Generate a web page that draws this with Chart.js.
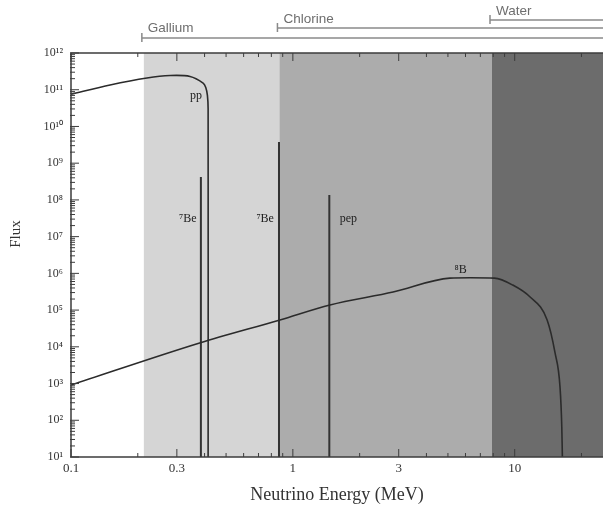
<!DOCTYPE html>
<html>
<head>
<meta charset="utf-8">
<script src="https://cdn.jsdelivr.net/npm/chart.js@4.4.0/dist/chart.umd.min.js"></script>
<style>
  html, body { margin: 0; padding: 0; background: #fff; }
</style>
</head>
<body>
<canvas id="chart" width="603" height="512"></canvas>
<script>
// spectra (energy in MeV, flux)
const ppEnergy = [0.1, 0.15, 0.22, 0.28, 0.344, 0.394, 0.405, 0.412, 0.415, 0.415];
const ppFlux   = [7.6e10, 1.35e11, 2.09e11, 2.44e11, 2.3e11, 1.52e11, 1.15e11, 7e10, 3e10, 10];

const b8Energy = [0.1, 0.38, 0.875, 1.47, 2.83, 5.1, 6.3, 8.1, 9.8, 11.7, 14.0, 15.2, 16.0, 16.3, 16.4];
const b8Flux   = [9.1e2, 1.27e4, 5.4e4, 1.38e5, 3.1e5, 7.4e5, 7.6e5, 7.4e5, 4.8e5, 2.3e5, 5.4e4, 6.8e3, 810, 66, 10];

// monoenergetic lines
const lineEnergy = [0.385, 0.866, 1.46];
const lineFlux   = [4.2e8, 3.8e9, 1.36e8];

// curve labels
const curveLabels = ['pp', '\u2077Be', '\u2077Be', 'pep', '\u2078B'];
const labelEnergy = [0.366, 0.336, 0.75, 1.78, 5.7];
const labelFlux   = [6.8e10, 3.0e7, 3.0e7, 3.0e7, 1.23e6];

// detectors and their thresholds
const detectorNames = ['Gallium', 'Chlorine', 'Water'];
const detectorThreshold = [0.213, 0.87, 7.9];

// axis labels
const xTickLabels = ['0.1', '0.3', '1', '3', '10'];
const yTickLabels = ['10\u00b9', '10\u00b2', '10\u00b3', '10\u2074', '10\u2075', '10\u2076',
                     '10\u2077', '10\u2078', '10\u2079', '10\u00b9\u2070', '10\u00b9\u00b9', '10\u00b9\u00b2'];

const xTicks = [];
for (let e = -1; e <= 1; e++) {
  for (let m = 1; m <= 9; m++) {
    const v = m * Math.pow(10, e);
    if (v <= 25) xTicks.push(v);
  }
}
const yTicks = [];
for (let e = 1; e <= 12; e++) {
  for (let m = 1; m <= 9; m++) {
    if (e === 12 && m > 1) break;
    yTicks.push(m * Math.pow(10, e));
  }
}

function near(a, b) { return Math.abs(a - b) / b < 1e-6; }

const curveColor = '#2b2b2b';

const datasets = [
  {
    label: 'pp',
    data: ppEnergy.map((e, i) => ({ x: e, y: ppFlux[i] })),
    borderColor: curveColor, borderWidth: 1.6, tension: 0.3
  },
  {
    label: '8B',
    data: b8Energy.map((e, i) => ({ x: e, y: b8Flux[i] })),
    borderColor: curveColor, borderWidth: 1.6, cubicInterpolationMode: 'monotone'
  }
];
lineEnergy.forEach((e, i) => {
  datasets.push({
    label: 'line' + i,
    data: [{ x: e, y: 10 }, { x: e, y: lineFlux[i] }],
    borderColor: '#333', borderWidth: 2, tension: 0
  });
});

const shading = {
  id: 'shading',
  beforeDraw(chart) {
    const { ctx, chartArea: a, scales: { x } } = chart;
    const shades = ['#d5d5d5', '#acacac', '#6c6c6c'];
    ctx.save();
    detectorThreshold.forEach((t, i) => {
      const x0 = x.getPixelForValue(t);
      const x1 = i + 1 < detectorThreshold.length ? x.getPixelForValue(detectorThreshold[i + 1]) : a.right;
      ctx.fillStyle = shades[i];
      ctx.fillRect(x0, a.top, x1 - x0, a.bottom - a.top);
    });
    ctx.restore();
  }
};

const frame = {
  id: 'frame',
  afterDraw(chart) {
    const { ctx, chartArea: a, scales: { x, y } } = chart;
    ctx.save();
    // axes box and inward ticks
    ctx.strokeStyle = '#3c3c3c';
    ctx.lineWidth = 1.5;
    ctx.beginPath();
    ctx.moveTo(a.right, a.top); ctx.lineTo(a.left, a.top);
    ctx.lineTo(a.left, a.bottom); ctx.lineTo(a.right, a.bottom);
    ctx.stroke();
    ctx.lineWidth = 1;
    ctx.beginPath();
    x.ticks.forEach(t => {
      const px = x.getPixelForValue(t.value);
      const len = t.label ? 8 : 4;
      ctx.moveTo(px, a.bottom); ctx.lineTo(px, a.bottom - len);
      ctx.moveTo(px, a.top); ctx.lineTo(px, a.top + len);
    });
    y.ticks.forEach(t => {
      const py = y.getPixelForValue(t.value);
      const len = t.label ? 8 : 4;
      ctx.moveTo(a.left - 1, py); ctx.lineTo(a.left + len, py);
    });
    ctx.stroke();

    // curve labels
    ctx.fillStyle = '#222';
    ctx.font = '12px "Liberation Serif"';
    ctx.textAlign = 'center';
    ctx.textBaseline = 'middle';
    curveLabels.forEach((s, i) => {
      ctx.fillText(s, x.getPixelForValue(labelEnergy[i]), y.getPixelForValue(labelFlux[i]));
    });

    // y title
    ctx.save();
    ctx.translate(16, 234);
    ctx.rotate(-Math.PI / 2);
    ctx.font = '15px "Liberation Serif"';
    ctx.fillStyle = '#333';
    ctx.fillText('Flux', 0, 0);
    ctx.restore();

    // detector ranges above the plot
    const barY = [38, 28, 20];
    const nameY = [28, 19, 11];
    ctx.strokeStyle = '#8a8a8a';
    ctx.lineWidth = 1.5;
    ctx.fillStyle = '#6e6e6e';
    ctx.font = '13.5px "Liberation Sans"';
    ctx.textAlign = 'left';
    detectorNames.forEach((n, i) => {
      const x0 = x.getPixelForValue(detectorThreshold[i]) - 2;
      ctx.beginPath();
      ctx.moveTo(x0, barY[i]); ctx.lineTo(a.right, barY[i]);
      ctx.moveTo(x0, barY[i] - 5); ctx.lineTo(x0, barY[i] + 4);
      ctx.stroke();
      ctx.fillText(n, x0 + 6, nameY[i]);
    });
    ctx.restore();
  }
};

new Chart(document.getElementById('chart'), {
  type: 'scatter',
  data: { datasets: datasets },
  options: {
    responsive: false,
    animation: false,
    showLine: true,
    elements: { point: { radius: 0, hoverRadius: 0 } },
    layout: { padding: { top: 53, left: 0, right: 0, bottom: 0 } },
    plugins: { legend: { display: false }, tooltip: { enabled: false } },
    scales: {
      x: {
        type: 'logarithmic',
        min: 0.1,
        max: 25,
        afterBuildTicks: s => { s.ticks = xTicks.map(v => ({ value: v })); },
        afterFit: s => { s.height = 55; },
        grid: { display: false, drawTicks: false },
        border: { display: false },
        ticks: {
          autoSkip: false,
          maxRotation: 0,
          padding: 4,
          color: '#333',
          font: { family: 'Liberation Serif', size: 13 },
          callback: v => {
            const hit = xTickLabels.find(l => near(v, parseFloat(l)));
            return hit || '';
          }
        },
        title: {
          display: true,
          text: 'Neutrino Energy (MeV)',
          color: '#333',
          font: { family: 'Liberation Serif', size: 18 },
          padding: { top: 0, bottom: 6 }
        }
      },
      y: {
        type: 'logarithmic',
        min: 10,
        max: 1e12,
        afterBuildTicks: s => { s.ticks = yTicks.map(v => ({ value: v })); },
        afterFit: s => { s.width = 71; },
        grid: { display: false, drawTicks: false },
        border: { display: false },
        ticks: {
          autoSkip: false,
          padding: 8,
          color: '#333',
          font: { family: 'Liberation Serif', size: 12 },
          callback: v => {
            const e = Math.log10(v);
            if (Math.abs(e - Math.round(e)) > 1e-6) return '';
            return yTickLabels[Math.round(e) - 1];
          }
        }
      }
    }
  },
  plugins: [shading, frame]
});
</script>
</body>
</html>
